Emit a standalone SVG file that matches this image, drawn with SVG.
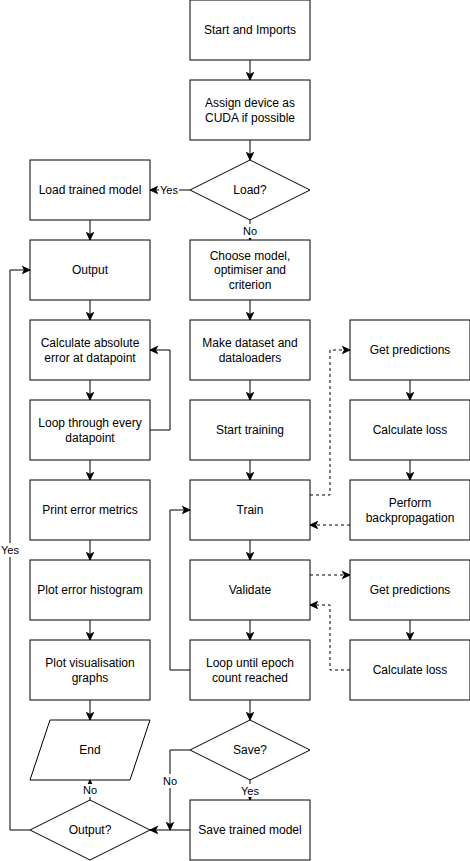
<svg xmlns="http://www.w3.org/2000/svg" width="470" height="861" viewBox="0 0 470 861">
<style>
.n{fill:#fff;stroke:#000;stroke-width:1}
.t{font-family:"Liberation Sans",Arial,sans-serif;font-size:12px;fill:#000;text-anchor:middle;dominant-baseline:central}
.l{font-family:"Liberation Sans",Arial,sans-serif;font-size:11px;fill:#000;text-anchor:middle;dominant-baseline:central}
.e{fill:none;stroke:#000;stroke-width:1}
.d{stroke-dasharray:3 3}
.bg{fill:#fff;stroke:none}
</style>
<defs>
<marker id="a" markerUnits="userSpaceOnUse" markerWidth="10" markerHeight="10" refX="8" refY="4" orient="auto" viewBox="0 0 10 8">
<path d="M0.5,0.5 L8,4 L0.5,7.5 L2.5,4 Z" fill="#000" stroke="#000" stroke-width="1"/>
</marker>
</defs>
<rect width="470" height="861" fill="#fff"/>
<g id="connectors">
<path class="e" d="M250,60 V80" marker-end="url(#a)"/>
<path class="e" d="M250,140 V160" marker-end="url(#a)"/>
<path class="e" d="M190,190 H150" marker-end="url(#a)"/>
<path class="e" d="M250,220 V240" marker-end="url(#a)"/>
<path class="e" d="M90,220 V240" marker-end="url(#a)"/>
<path class="e" d="M90,300 V320" marker-end="url(#a)"/>
<path class="e" d="M90,380 V400" marker-end="url(#a)"/>
<path class="e" d="M150,430 H170 V350 H150" marker-end="url(#a)"/>
<path class="e" d="M90,460 V480" marker-end="url(#a)"/>
<path class="e" d="M90,540 V560" marker-end="url(#a)"/>
<path class="e" d="M90,620 V640" marker-end="url(#a)"/>
<path class="e" d="M90,700 V720" marker-end="url(#a)"/>
<path class="e" d="M90,800 V780" marker-end="url(#a)"/>
<path class="e" d="M30,830 H10 V270 H30" marker-end="url(#a)"/>
<path class="e" d="M250,300 V320" marker-end="url(#a)"/>
<path class="e" d="M250,380 V400" marker-end="url(#a)"/>
<path class="e" d="M250,460 V480" marker-end="url(#a)"/>
<path class="e" d="M250,540 V560" marker-end="url(#a)"/>
<path class="e" d="M250,620 V640" marker-end="url(#a)"/>
<path class="e" d="M250,700 V720" marker-end="url(#a)"/>
<path class="e" d="M190,670 H170 V510 H190" marker-end="url(#a)"/>
<path class="e" d="M250,780 V800" marker-end="url(#a)"/>
<path class="e" d="M190,750 H170 V830" marker-end="url(#a)"/>
<path class="e" d="M190,830 H150" marker-end="url(#a)"/>
<path class="e d" d="M310,495 H330 V350 H350" marker-end="url(#a)"/>
<path class="e" d="M410,380 V400" marker-end="url(#a)"/>
<path class="e" d="M410,460 V480" marker-end="url(#a)"/>
<path class="e d" d="M350,525 H310" marker-end="url(#a)"/>
<path class="e d" d="M310,575 H350" marker-end="url(#a)"/>
<path class="e" d="M410,620 V640" marker-end="url(#a)"/>
<path class="e d" d="M350,670 H330 V605 H310" marker-end="url(#a)"/>
<rect class="bg" x="159" y="183" width="20" height="14"/>
<text class="l" x="169" y="190">Yes</text>
<rect class="bg" x="242" y="224" width="16" height="14"/>
<text class="l" x="250" y="231">No</text>
<rect class="bg" x="0" y="543" width="20" height="14"/>
<text class="l" x="10" y="550">Yes</text>
<rect class="bg" x="82" y="784" width="16" height="13"/>
<text class="l" x="90" y="790">No</text>
<rect class="bg" x="162" y="774" width="16" height="14"/>
<text class="l" x="170" y="781">No</text>
<rect class="bg" x="240" y="784" width="20" height="13"/>
<text class="l" x="250" y="791">Yes</text>
</g>
<g id="start"><rect class="n" x="190" y="0" width="120" height="60"/><text class="t" x="250" y="30">Start and Imports</text></g>
<g id="assign"><rect class="n" x="190" y="80" width="120" height="60"/><text class="t" x="250" y="110"><tspan x="250" dy="-7.5">Assign device as</tspan><tspan x="250" dy="15">CUDA if possible</tspan></text></g>
<g id="load"><path class="n" d="M250,160 L310,190 L250,220 L190,190 Z"/><text class="t" x="250" y="190">Load?</text></g>
<g id="loadmodel"><rect class="n" x="30" y="160" width="120" height="60"/><text class="t" x="90" y="190">Load trained model</text></g>
<g id="output"><rect class="n" x="30" y="240" width="120" height="60"/><text class="t" x="90" y="270">Output</text></g>
<g id="calcabs"><rect class="n" x="30" y="320" width="120" height="60"/><text class="t" x="90" y="350"><tspan x="90" dy="-7.5">Calculate absolute</tspan><tspan x="90" dy="15">error at datapoint</tspan></text></g>
<g id="loopdata"><rect class="n" x="30" y="400" width="120" height="60"/><text class="t" x="90" y="430"><tspan x="90" dy="-7.5">Loop through every</tspan><tspan x="90" dy="15">datapoint</tspan></text></g>
<g id="printerr"><rect class="n" x="30" y="480" width="120" height="60"/><text class="t" x="90" y="510">Print error metrics</text></g>
<g id="plothist"><rect class="n" x="30" y="560" width="120" height="60"/><text class="t" x="90" y="590">Plot error histogram</text></g>
<g id="plotvis"><rect class="n" x="30" y="640" width="120" height="60"/><text class="t" x="90" y="670"><tspan x="90" dy="-7.5">Plot visualisation</tspan><tspan x="90" dy="15">graphs</tspan></text></g>
<g id="end"><path class="n" d="M50,720 H150 L130,780 H30 Z"/><text class="t" x="90" y="750">End</text></g>
<g id="outputq"><path class="n" d="M90,800 L150,830 L90,860 L30,830 Z"/><text class="t" x="90" y="830">Output?</text></g>
<g id="choose"><rect class="n" x="190" y="240" width="120" height="60"/><text class="t" x="250" y="270"><tspan x="250" dy="-14.5">Choose model,</tspan><tspan x="250" dy="14.5">optimiser and</tspan><tspan x="250" dy="14.5">criterion</tspan></text></g>
<g id="dataset"><rect class="n" x="190" y="320" width="120" height="60"/><text class="t" x="250" y="350"><tspan x="250" dy="-7.5">Make dataset and</tspan><tspan x="250" dy="15">dataloaders</tspan></text></g>
<g id="starttrain"><rect class="n" x="190" y="400" width="120" height="60"/><text class="t" x="250" y="430">Start training</text></g>
<g id="train"><rect class="n" x="190" y="480" width="120" height="60"/><text class="t" x="250" y="510">Train</text></g>
<g id="validate"><rect class="n" x="190" y="560" width="120" height="60"/><text class="t" x="250" y="590">Validate</text></g>
<g id="loopepoch"><rect class="n" x="190" y="640" width="120" height="60"/><text class="t" x="250" y="670"><tspan x="250" dy="-7.5">Loop until epoch</tspan><tspan x="250" dy="15">count reached</tspan></text></g>
<g id="save"><path class="n" d="M250,720 L310,750 L250,780 L190,750 Z"/><text class="t" x="250" y="750">Save?</text></g>
<g id="savemodel"><rect class="n" x="190" y="800" width="120" height="60"/><text class="t" x="250" y="830">Save trained model</text></g>
<g id="getpred1"><rect class="n" x="350" y="320" width="120" height="60"/><text class="t" x="410" y="350">Get predictions</text></g>
<g id="calcloss1"><rect class="n" x="350" y="400" width="120" height="60"/><text class="t" x="410" y="430">Calculate loss</text></g>
<g id="backprop"><rect class="n" x="350" y="480" width="120" height="60"/><text class="t" x="410" y="510"><tspan x="410" dy="-7.5">Perform</tspan><tspan x="410" dy="15">backpropagation</tspan></text></g>
<g id="getpred2"><rect class="n" x="350" y="560" width="120" height="60"/><text class="t" x="410" y="590">Get predictions</text></g>
<g id="calcloss2"><rect class="n" x="350" y="640" width="120" height="60"/><text class="t" x="410" y="670">Calculate loss</text></g>
</svg>
